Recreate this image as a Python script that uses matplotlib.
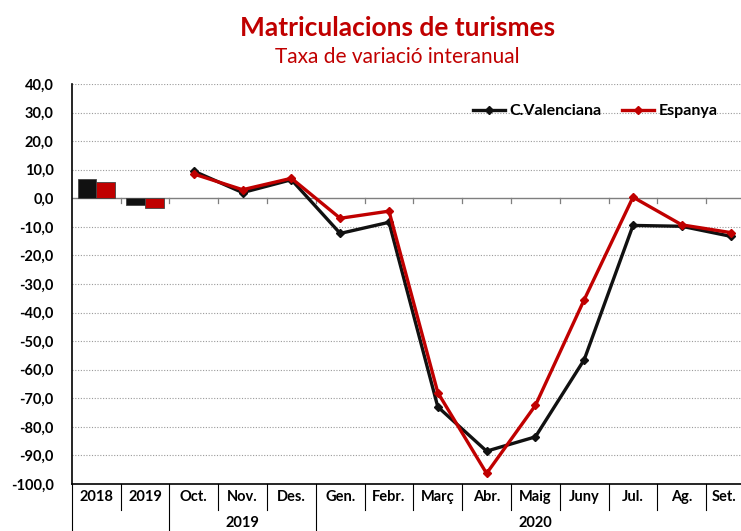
import numpy as np
import matplotlib.pyplot as plt

# categories along the bottom
categories = ["2018", "2019", "Oct.", "Nov.", "Des.", "Gen.", "Febr.", "Març",
              "Abr.", "Maig", "Juny", "Jul.", "Ag.", "Set."]
groups = [("2019", 2, 4), ("2020", 5, 13)]

# annual bars (2018, 2019)
bar_cv = [6.6, -2.5]
bar_es = [5.6, -3.4]

# monthly lines, Oct 2019 .. Set 2020
line_cv = [9.5, 2.0, 6.5, -12.3, -8.4, -73.0, -88.5, -83.5, -56.5, -9.5, -9.8, -13.3]
line_es = [8.5, 3.0, 7.0, -7.0, -4.5, -68.0, -96.3, -72.5, -35.5, 0.4, -9.3, -12.0]

dark_red = "#C00000"
red = "#C00000"
black = "#111111"

plt.rcParams['font.family'] = ['Lato', 'DejaVu Sans']

fig = plt.figure(figsize=(7.41, 5.31), dpi=100)
ax = fig.add_axes([71.8 / 741, 1 - 484 / 531, (755 - 71.8) / 741, 400 / 531])

x = np.arange(len(categories))
bx = x[:2]
w = 0.38
ax.bar(bx - w / 2, bar_cv, width=w, color=black, edgecolor="#444444", linewidth=0.6, zorder=3)
ax.bar(bx + w / 2, bar_es, width=w, color="#C00000", edgecolor="#444444", linewidth=0.6, zorder=3)

lx = x[2:]
ax.plot(lx, line_cv, color=black, lw=2.4, marker="D", ms=4, label="C.Valenciana", zorder=4)
ax.plot(lx, line_es, color=red, lw=2.4, marker="D", ms=4, label="Espanya", zorder=5)

ax.set_xlim(-0.5, len(categories) - 0.5)
ax.set_ylim(-100, 40)
ax.set_yticks(np.arange(-100, 41, 10))
ax.set_yticklabels([f"{v:.1f}".replace(".", ",") for v in np.arange(-100, 41, 10)],
                   fontsize=10.5, fontweight="bold")
ax.tick_params(axis="y", length=0, pad=13)
ax.set_xticks([])

for v in np.arange(-90, 41, 10):
    if v == 0:
        continue
    ax.axhline(v, color="#9a9a9a", lw=0.8, ls=(0, (1, 1.5)), zorder=1)
ax.axhline(0, color="#7f7f7f", lw=1.0, zorder=2)
# small tick marks on the zero line
for b in np.arange(0.5, len(categories) - 0.5, 1):
    ax.plot([b, b], [0, -1.5], color="#7f7f7f", lw=0.9, zorder=2)

for s in ["top", "right"]:
    ax.spines[s].set_visible(False)
ax.spines["left"].set_color("black")
ax.spines["bottom"].set_color("black")
ax.spines["left"].set_linewidth(1.2)
ax.spines["bottom"].set_linewidth(1.2)

# category table under the axis
trans = ax.get_xaxis_transform()
for i, c in enumerate(categories):
    xi = i if i < len(categories) - 1 else i - 0.14  # last label squeezed in at the edge
    ax.text(xi, -0.033, c, transform=trans, ha="center", va="center",
            fontsize=10.5, fontweight="bold")
long_seps = [-0.5, 1.5, 4.5]
for b in np.arange(-0.5, len(categories), 1):
    y0 = -0.13 if b in long_seps else -0.065
    ax.plot([b, b], [0, y0], transform=trans, color="black", lw=0.8, clip_on=False)
for name, a, b in groups:
    ax.text((a + b) / 2, -0.098, name, transform=trans, ha="center", va="center",
            fontsize=10.5, fontweight="bold")

ax.legend(loc="center right", bbox_to_anchor=(0.967, 0.9325), ncol=2, frameon=False,
          prop={"weight": "bold", "size": 11.5}, handlelength=2.0, columnspacing=1.3,
          handletextpad=0.3)

fig.text(398 / 741, 1 - 28 / 531, "Matriculacions de turismes", ha="center", va="center",
         color=dark_red, fontsize=19, fontweight="bold")
fig.text(397 / 741, 1 - 57 / 531, "Taxa de variació interanual", ha="center", va="center",
         color=dark_red, fontsize=15)

fig.savefig("out.png", dpi=100)
